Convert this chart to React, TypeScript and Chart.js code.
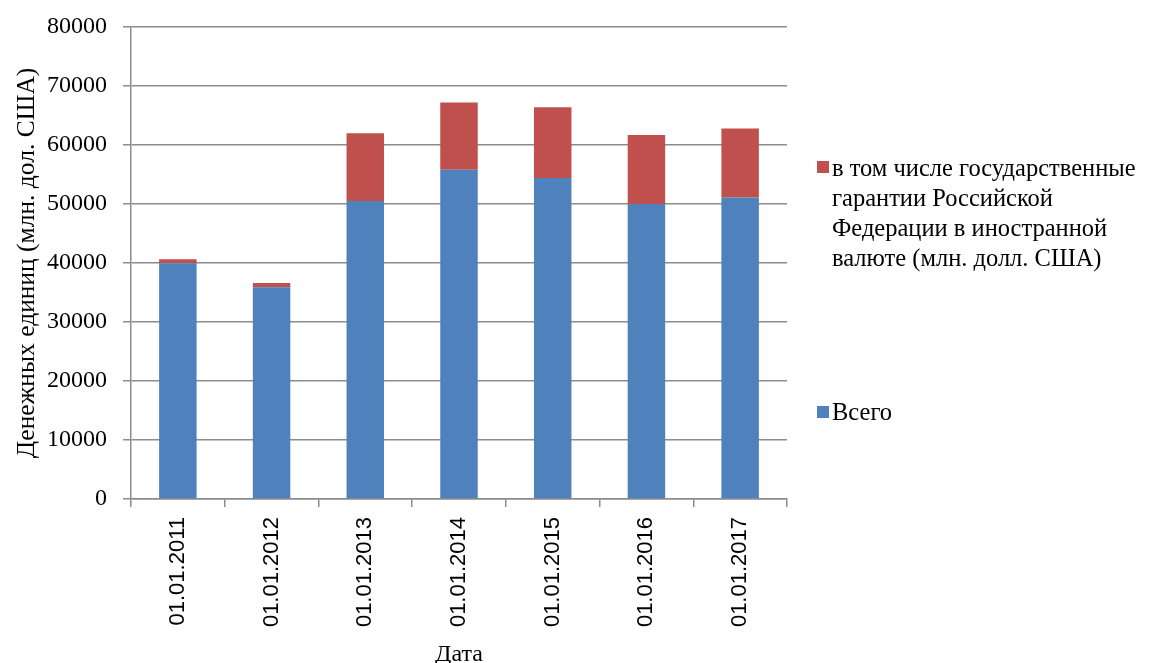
import React, { useEffect, useRef } from "react";
import { Chart, registerables } from "chart.js";

Chart.register(...registerables);

const categories = ["01.01.2011", "01.01.2012", "01.01.2013", "01.01.2014", "01.01.2015", "01.01.2016", "01.01.2017"];
const totalValues = [39950, 35900, 50500, 55800, 54400, 50000, 51100];
const guaranteeValues = [700, 720, 11500, 11400, 12000, 11700, 11700];
const yTicks = [0, 10000, 20000, 30000, 40000, 50000, 60000, 70000, 80000];

const seriesTotal = "Всего";
const seriesGuarantee = "в том числе государственные гарантии Российской Федерации в иностранной валюте (млн. долл. США)";
const legendGuaranteeLines = ["в том числе государственные", "гарантии Российской", "Федерации в иностранной", "валюте (млн. долл. США)"];
const yTitle = "Денежных единиц (млн. дол. США)";
const xTitle = "Дата";

const BLUE = "#4F81BD";
const RED = "#C0504D";
const GRID = "#8c8c8c";
const SERIF = "'Liberation Serif', 'Times New Roman', serif";
const SANS = "'Liberation Sans', Arial, sans-serif";

export default function App() {
  const ref = useRef<HTMLCanvasElement | null>(null);

  useEffect(() => {
    document.body.style.margin = "0";
    const canvas = ref.current;
    if (!canvas) return;
    const chart = new Chart(canvas, {
      type: "bar",
      data: {
        labels: categories,
        datasets: [
          { label: seriesTotal, data: totalValues, backgroundColor: BLUE, barPercentage: 0.4, categoryPercentage: 1 },
          { label: seriesGuarantee, data: guaranteeValues, backgroundColor: RED, barPercentage: 0.4, categoryPercentage: 1 },
        ],
      },
      options: {
        responsive: false,
        animation: false,
        layout: { padding: { top: 27, right: 366, left: 0, bottom: 0 } },
        plugins: { legend: { display: false }, tooltip: { enabled: false } },
        scales: {
          x: {
            stacked: true,
            afterFit: (s: any) => { s.height = 164; },
            grid: { display: true, drawOnChartArea: false, offset: true, tickLength: 8, color: GRID, lineWidth: 1.5 },
            border: { display: true, color: GRID, width: 1.5 },
            ticks: { minRotation: 90, maxRotation: 90, padding: 10, color: "#000", font: { family: SANS, size: 22 } },
            title: { display: true, text: xTitle, color: "#000", font: { family: SERIF, size: 24, lineHeight: 0.65 }, padding: 0 },
          },
          y: {
            stacked: true,
            min: 0,
            max: 80000,
            afterFit: (s: any) => { s.width = 131; s.paddingTop = 0; s.paddingBottom = 0; },
            afterBuildTicks: (s: any) => { s.ticks = yTicks.map((v) => ({ value: v })); },
            grid: { color: GRID, lineWidth: 1.5, tickLength: 8 },
            border: { display: true, color: GRID, width: 1.5 },
            ticks: { padding: 16, color: "#000", font: { family: SERIF, size: 24 }, callback: (v: any) => String(v) },
            title: { display: true, text: yTitle, color: "#000", font: { family: SERIF, size: 25.5, lineHeight: 1.2 }, padding: { top: 12, bottom: 0 } },
          },
        },
      },
    });
    return () => chart.destroy();
  }, []);

  const textStyle: React.CSSProperties = {
    position: "absolute",
    left: 832,
    fontFamily: SERIF,
    fontSize: 24.5,
    lineHeight: "30px",
    color: "#000",
    whiteSpace: "nowrap",
  };
  const sq = (color: string, top: number): React.CSSProperties => ({
    position: "absolute", left: 817, top, width: 12, height: 12, background: color,
  });

  return (
    <div style={{ position: "relative", width: 1153, height: 663, background: "#fff", overflow: "hidden" }}>
      <canvas ref={ref} width={1153} height={663} style={{ position: "absolute", left: 0, top: 0 }} />
      <div style={sq(RED, 161)} />
      <div style={{ ...textStyle, top: 153 }}>
        {legendGuaranteeLines.map((l, i) => (<div key={i}>{l}</div>))}
      </div>
      <div style={sq(BLUE, 406)} />
      <div style={{ ...textStyle, top: 397 }}>{seriesTotal}</div>
    </div>
  );
}
